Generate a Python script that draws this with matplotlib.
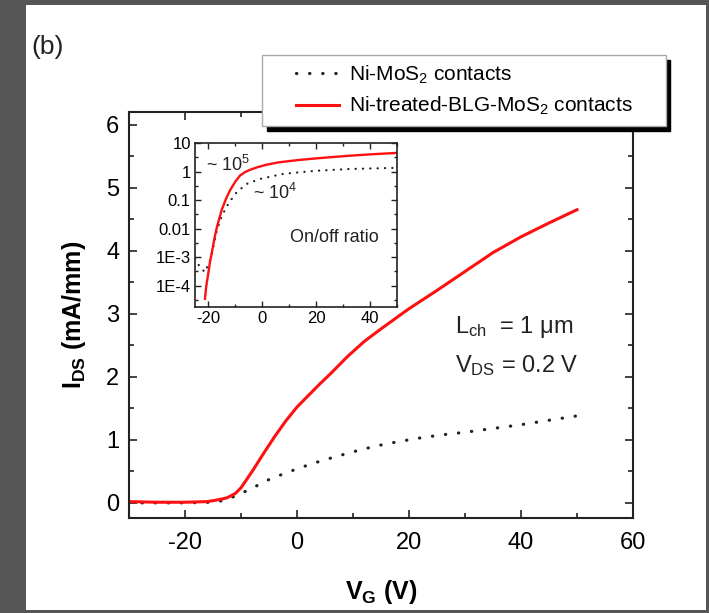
import matplotlib
matplotlib.use("Agg")
import matplotlib.pyplot as plt
from matplotlib.patches import Rectangle
from matplotlib.path import Path
from matplotlib.ticker import MultipleLocator, FixedLocator, NullFormatter

plt.rcParams['font.family'] = ['Liberation Sans', 'DejaVu Sans']
plt.rcParams['mathtext.default'] = 'regular'
plt.rcParams['axes.unicode_minus'] = False

# main panel: linear I_DS vs V_G
vg_red = [-30, -25, -20, -16, -14, -12.5, -11, -10, -8, -6, -4, -2, 0, 2, 4,
          6, 9, 12, 15, 20, 25, 30, 35, 40, 45, 50]
ids_red = [0.02, 0.01, 0.01, 0.02, 0.05, 0.08, 0.15, 0.24, 0.5, 0.78, 1.05, 1.3,
           1.52, 1.7, 1.88, 2.05, 2.32, 2.56, 2.76, 3.08, 3.37, 3.67, 3.97, 4.22,
           4.44, 4.65]
vg_blk = [-30, -20, -15, -13, -11, -9, -7, -5, -3, 0, 3, 6, 10, 14, 18, 22, 26,
          30, 35, 40, 45, 50]
ids_blk = [0.0, 0.0, 0.01, 0.04, 0.11, 0.19, 0.28, 0.37, 0.44, 0.54, 0.63, 0.71,
           0.81, 0.9, 0.97, 1.03, 1.08, 1.12, 1.18, 1.24, 1.31, 1.38]

# inset: same curves on log scale
vg_in_red = [-21.3, -20.8, -20.1, -19.5, -18.8, -17.8, -16.9, -15.1, -13.5, -12,
             -10, -8.3, -6.5, -4.6, -2, 1.6, 6, 14, 22, 32.6, 42, 50]
ids_in_red = [3.5e-5, 1e-4, 2.6e-4, 6.3e-4, 1.35e-3, 4.5e-3, 1.1e-2, 4.5e-2, 0.11,
              0.22, 0.45, 0.72, 0.95, 1.15, 1.4, 1.74, 2.1, 2.57, 3.0, 3.6, 4.1, 4.5]
vg_in_blk = [-25, -23.1, -21.3, -19.4, -18.2, -16.9, -15.1, -12.6, -9.5, -5.8,
             -0.9, 7.8, 20.2, 32.6, 50]
ids_in_blk = [8.9e-4, 4.4e-4, 3.0e-4, 7.9e-4, 2.3e-3, 8.5e-3, 2.7e-2, 7.6e-2, 0.19,
              0.37, 0.55, 0.83, 1.07, 1.23, 1.35]

in_yticks = [1e-4, 1e-3, 1e-2, 1e-1, 1, 10]
in_ylabels = ['1E-4', '1E-3', '0.01', '0.1', '1', '10']

label_blk = 'Ni-MoS$_2$ contacts'
label_red = 'Ni-treated-BLG-MoS$_2$ contacts'

RED = '#ff1010'
INK = '#222222'
W, H = 709, 613


def fpos(x, y):
    # pixel position (from top-left) to figure fraction
    return x / W, 1 - y / H


fig = plt.figure(figsize=(7.09, 6.13), dpi=100)
fig.patch.set_facecolor('#565656')
fig.patches.append(Rectangle((26 / W, 3 / H), 680 / W, 605 / H,
                             transform=fig.transFigure, facecolor='white',
                             edgecolor='none', zorder=-5))

ax = fig.add_axes([129 / W, 1 - 518 / H, 504 / W, 406 / H])
ax.plot(vg_blk, ids_blk, color=INK, lw=2.3, linestyle=(0, (0.1, 4.0)),
        dash_capstyle='round', label=label_blk)
ax.plot(vg_red, ids_red, color=RED, lw=2.2, label=label_red)
ax.set_xlim(-30, 60)
ax.set_ylim(-0.24, 6.2)
ax.xaxis.set_major_locator(MultipleLocator(20))
ax.xaxis.set_minor_locator(MultipleLocator(10))
ax.yaxis.set_major_locator(MultipleLocator(1))
ax.yaxis.set_minor_locator(MultipleLocator(0.5))
ax.tick_params(which='both', direction='in', top=True, right=True,
               width=1.2, color=INK)
ax.tick_params(which='major', length=6, labelsize=17, pad=7)
ax.tick_params(axis='x', which='major', pad=10)
ax.tick_params(which='minor', length=3.5)
for s in ax.spines.values():
    s.set_linewidth(1.5)
    s.set_color(INK)
ax.set_xlabel('V$_G$ (V)', fontsize=18, fontweight='bold', labelpad=17)
ax.set_ylabel('I$_{DS}$ (mA/mm)', fontsize=18, fontweight='bold', labelpad=13)

fig.text(*fpos(455, 333), 'L$_{ch}$  = 1 μm', fontsize=17, color=INK)
fig.text(*fpos(455, 372), 'V$_{DS}$ = 0.2 V', fontsize=17, color=INK)
fig.text(*fpos(31, 47), '(b)', fontsize=19, va='center', color=INK)


def wide_box(x0, y0, width, height, mutation_size):
    padx = 1.2 * mutation_size
    x1 = x0 + width + padx
    x0 = x0 - padx
    y1 = y0 + height
    return Path([(x0, y0), (x1, y0), (x1, y1), (x0, y1), (x0, y0)],
                closed=True)


leg = ax.legend(loc='upper right', bbox_to_anchor=fpos(641, 55),
                bbox_transform=fig.transFigure, fontsize=15, frameon=True,
                fancybox=False, handlelength=2.1, handletextpad=0.45,
                borderpad=0.4, labelspacing=0.45, borderaxespad=0,
                shadow={'color': 'black', 'alpha': 1, 'ox': 3, 'oy': -3.5})
leg.get_frame().set_boxstyle(wide_box)
leg.get_frame().set_edgecolor('#aaaaaa')
leg.get_frame().set_linewidth(1.0)
leg.set_zorder(10)

# inset
axi = fig.add_axes([195 / W, 1 - 307 / H, 202 / W, 164 / H])
axi.plot(vg_in_blk, ids_in_blk, color=INK, lw=1.6,
         linestyle=(0, (0.1, 3.2)), dash_capstyle='round')
axi.plot(vg_in_red, ids_in_red, color=RED, lw=1.7)
axi.set_yscale('log')
axi.set_xlim(-25, 50)
axi.set_ylim(1.8e-5, 10)
axi.xaxis.set_major_locator(FixedLocator([-20, 0, 20, 40]))
axi.xaxis.set_minor_locator(FixedLocator([-10, 10, 30, 50]))
axi.yaxis.set_major_locator(FixedLocator(in_yticks))
axi.set_yticklabels(in_ylabels)
axi.yaxis.set_minor_locator(FixedLocator([3.16e-5, 3.16e-4, 3.16e-3, 3.16e-2,
                                          0.316, 3.16]))
axi.yaxis.set_minor_formatter(NullFormatter())
axi.tick_params(which='both', direction='in', top=True, right=True,
                width=1.0, color=INK)
axi.tick_params(which='major', length=4, labelsize=12, pad=3)
axi.tick_params(which='minor', length=2.5)
for s in axi.spines.values():
    s.set_linewidth(1.2)
    s.set_color(INK)
fig.text(*fpos(206, 165), '~ 10$^5$', fontsize=13, va='center', color=INK)
fig.text(*fpos(253, 193), '~ 10$^4$', fontsize=13, va='center', color=INK)
fig.text(*fpos(290, 238), 'On/off ratio', fontsize=13, va='center', color=INK)

fig.savefig('out.png', dpi=100, facecolor=fig.get_facecolor())
